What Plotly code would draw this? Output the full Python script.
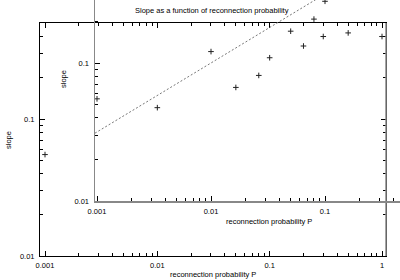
import plotly.graph_objects as go

# data
prob = [0.001, 0.01, 0.05, 0.08, 0.1, 0.2, 0.3, 0.5, 1.0]
slope = [0.055, 0.121, 0.17, 0.208, 0.28, 0.341, 0.40, 0.425, 0.40]
# reference line (dashed), two end points
fit_prob = [0.00096, 1.0]
fit_slope = [0.031, 1.0]

x_ticks = [0.001, 0.01, 0.1, 1]
x_ticktext = ["0.001", "0.01", "0.1", "1"]
y_ticks = [0.01, 0.1, 1]
y_ticktext = ["0.01", "0.1", "1"]

W, H = 400, 280
FONT = dict(family="Liberation Sans, Arial, sans-serif", size=7.5, color="#000")

minor_vals = [m * 10 ** e for e in range(-4, 1) for m in range(2, 10)]

def px_x(v):
    return v / W

def px_y(v):
    return 1 - v / H

fig = go.Figure()

marker = dict(symbol="cross-thin", size=4, line=dict(color="#222", width=1))

# outer plot: points only
fig.add_trace(go.Scatter(x=prob, y=slope, mode="markers", marker=marker,
                         xaxis="x", yaxis="y", showlegend=False))
# inset plot: points + line
fig.add_trace(go.Scatter(x=prob, y=slope, mode="markers", marker=marker,
                         xaxis="x2", yaxis="y2", showlegend=False))
fig.add_trace(go.Scatter(x=fit_prob, y=fit_slope, mode="lines",
                         line=dict(color="#777", width=1, dash="2px,2px"),
                         xaxis="x2", yaxis="y2", showlegend=False))

# outer axes scale
ox0, ox1 = 45, 382      # px of 0.001 and 1
oxpd = (ox1 - ox0) / 3
oy_ppd = 137
outer_x_range = [-3 - (ox0 - 40) / oxpd, -3 + (386 - ox0) / oxpd]
outer_y_range = [-2, -2 + (256 - 23) / oy_ppd]

# inset axes scale
ix_ppd = 114
iy_ppd = 138
inner_x_range = [-3 - 2 / ix_ppd, -3 + (400 - 97) / ix_ppd]
inner_y_range = [-2, -2 + 201 / iy_ppd]

common = dict(type="log", showgrid=False, zeroline=False, ticks="inside",
              tickfont=FONT, tickcolor="#000", ticklen=5, tickwidth=1,
              automargin=False)

fig.update_layout(
    template="none",
    width=W, height=H,
    margin=dict(l=0, r=0, t=0, b=0, pad=0, autoexpand=False),
    paper_bgcolor="white",
    plot_bgcolor="rgba(0,0,0,0)",
    font=FONT,
    showlegend=False,
    xaxis=dict(**common, domain=[px_x(40), px_x(386)], range=outer_x_range,
               anchor="y", showline=True, linecolor="#000", linewidth=1,
               mirror="allticks", tickvals=x_ticks, ticktext=x_ticktext,
               ticklabelstandoff=2,
               minor=dict(ticks="inside", ticklen=3, tickvals=minor_vals,
                          tickcolor="#000")),
    yaxis=dict(**common, domain=[px_y(256), px_y(23)], range=outer_y_range,
               anchor="x", showline=True, linecolor="#000", linewidth=1,
               mirror="allticks", tickvals=y_ticks, ticktext=y_ticktext,
               ticklabelstandoff=3,
               minor=dict(ticks="inside", ticklen=3, tickvals=minor_vals,
                          tickcolor="#000")),
    xaxis2=dict(**common, domain=[px_x(95), 1.0], range=inner_x_range,
                anchor="y2", showline=True, linecolor="#888", linewidth=1.5,
                mirror=False, tickvals=x_ticks, ticktext=x_ticktext,
                ticklabelstandoff=2,
                minor=dict(ticks="inside", ticklen=3, tickvals=minor_vals,
                           tickcolor="#000")),
    yaxis2=dict(**common, domain=[px_y(201), 1.0], range=inner_y_range,
                anchor="x2", showline=True, linecolor="#888", linewidth=1.5,
                mirror=False, tickvals=y_ticks, ticktext=y_ticktext,
                ticklabelstandoff=3,
                minor=dict(ticks="inside", ticklen=3, tickvals=minor_vals,
                           tickcolor="#000")),
    annotations=[
        dict(text="Slope as a function of reconnection probability",
             x=px_x(212), y=px_y(11), xref="paper", yref="paper",
             showarrow=False, font=FONT, xanchor="center", yanchor="middle"),
        dict(text="reconnection probability P", x=px_x(213), y=px_y(274),
             xref="paper", yref="paper", showarrow=False, font=FONT,
             xanchor="center", yanchor="middle"),
        dict(text="slope", x=px_x(8), y=px_y(140), xref="paper", yref="paper",
             showarrow=False, font=FONT, textangle=-90,
             xanchor="center", yanchor="middle"),
        dict(text="reconnection probability P", x=px_x(269), y=px_y(221),
             xref="paper", yref="paper", showarrow=False, font=FONT,
             xanchor="center", yanchor="middle"),
        dict(text="slope", x=px_x(63), y=px_y(79), xref="paper", yref="paper",
             showarrow=False, font=FONT, textangle=-90,
             xanchor="center", yanchor="middle"),
    ],
    shapes=[
        dict(type="line", xref="paper", yref="paper",
             x0=px_x(386), x1=px_x(386), y0=px_y(256), y1=px_y(23),
             line=dict(color="#888", width=1.5)),
    ],
)

fig.write_html("out.html",
               config={"displayModeBar": False, "staticPlot": True},
               post_script="document.body.style.margin='0px';"
                           "document.body.style.overflow='hidden';")
